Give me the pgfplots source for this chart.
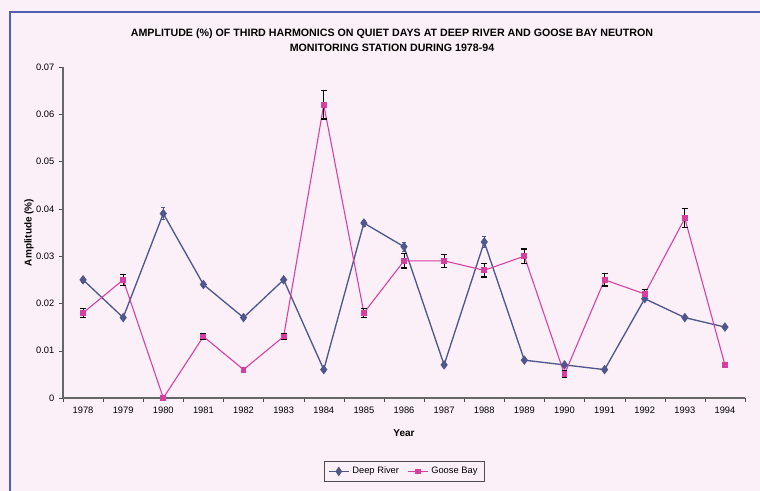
\documentclass[border=0pt]{standalone}
\usepackage{pgfplots}
\pgfplotsset{compat=1.18}
\usepackage{fontspec}
\setmainfont{Liberation Sans}
\definecolor{bg}{RGB}{252,240,248}
\definecolor{deep}{RGB}{78,88,140}
\definecolor{goose}{RGB}{214,62,160}
\definecolor{frame}{RGB}{80,95,180}
\begin{document}
\begin{tikzpicture}[x=0.75pt,y=0.75pt]
\path[use as bounding box] (0,0) rectangle (760,491);
\fill[bg] (0,0) rectangle (760,491);
\begin{scope}
\clip (0,0) rectangle (760,491);
\draw[frame, line width=1.6pt] (10,-10) -- (10,479) -- (780,479);
\end{scope}
\node[font=\bfseries\fontsize{8}{11.5}\selectfont, align=center] at (392,451) {AMPLITUDE (\%) OF THIRD HARMONICS ON QUIET DAYS AT DEEP RIVER AND GOOSE BAY NEUTRON\\MONITORING STATION DURING 1978-94};
\begin{axis}[
  at={(47.25pt,69.75pt)}, anchor=south west,
  scale only axis, width=511.5pt, height=248.25pt,
  xmin=-0.5, xmax=16.5, ymin=0, ymax=0.07,
  axis lines*=left,
  axis line style={draw=black!60, line width=0.8pt},
  xtick={0,...,16},
  xticklabels={1978,1979,1980,1981,1982,1983,1984,1985,1986,1987,1988,1989,1990,1991,1992,1993,1994},
  minor xtick={-0.5,0.5,...,16.5},
  major x tick style={draw=none},
  minor tick length=3pt,
  ytick={0,0.01,0.02,0.03,0.04,0.05,0.06,0.07},
  yticklabels={0,0.01,0.02,0.03,0.04,0.05,0.06,0.07},
  scaled y ticks=false,
  tick align=outside, major tick length=3pt,
  tick style={black!70},
  ticklabel style={font=\fontsize{7}{8}\selectfont},
  /pgf/number format/assume math mode=true,
  xlabel={\bfseries Year}, xlabel style={font=\fontsize{7.5}{9}\selectfont, yshift=-5pt},
  ylabel={\bfseries Amplitude (\%)}, ylabel style={font=\fontsize{7.5}{9}\selectfont, yshift=-5pt},
  legend columns=2,
  legend style={at={(0.5,-0.222)}, anchor=center, font=\fontsize{7}{8}\selectfont, draw=black!70, fill=bg, /tikz/every even column/.append style={column sep=4pt}},
  legend image post style={xscale=0.9},
]
\addplot[deep, line width=1pt, mark=diamond*, mark size=2.8pt, mark options={fill=deep},
  error bars/.cd, y dir=both, y explicit, error bar style={deep, line width=0.6pt}, error mark options={rotate=90, mark size=1.5pt, deep}]
  coordinates {
  (0,0.025) +- (0,0.0005)
  (1,0.017) +- (0,0.0003)
  (2,0.039) +- (0,0.0013)
  (3,0.024) +- (0,0.0004)
  (4,0.017) +- (0,0.0003)
  (5,0.025) +- (0,0.0004)
  (6,0.006) +- (0,0.0002)
  (7,0.037) +- (0,0.0006)
  (8,0.032) +- (0,0.0010)
  (9,0.007) +- (0,0.0002)
  (10,0.033) +- (0,0.0012)
  (11,0.008) +- (0,0.0002)
  (12,0.007) +- (0,0.0002)
  (13,0.006) +- (0,0.0002)
  (14,0.021) +- (0,0.0004)
  (15,0.017) +- (0,0.0003)
  (16,0.015) +- (0,0.0003)
  };
\addlegendentry{Deep River}
\addplot[goose, line width=0.8pt, mark=square*, mark size=1.8pt, mark options={fill=goose},
  error bars/.cd, y dir=both, y explicit, error bar style={black, line width=0.7pt}, error mark options={rotate=90, mark size=2.2pt, black, line width=0.9pt}]
  coordinates {
  (0,0.018) +- (0,0.0009)
  (1,0.025) +- (0,0.0012)
  (2,0.000) +- (0,0.0002)
  (3,0.013) +- (0,0.0007)
  (4,0.006) +- (0,0.0005)
  (5,0.013) +- (0,0.0007)
  (6,0.062) +- (0,0.0030)
  (7,0.018) +- (0,0.0010)
  (8,0.029) +- (0,0.0015)
  (9,0.029) +- (0,0.0014)
  (10,0.027) +- (0,0.0014)
  (11,0.030) +- (0,0.0015)
  (12,0.005) +- (0,0.0007)
  (13,0.025) +- (0,0.0013)
  (14,0.022) +- (0,0.0010)
  (15,0.038) +- (0,0.0020)
  (16,0.007) +- (0,0.0004)
  };
\addlegendentry{Goose Bay}
\end{axis}
\end{tikzpicture}
\end{document}
